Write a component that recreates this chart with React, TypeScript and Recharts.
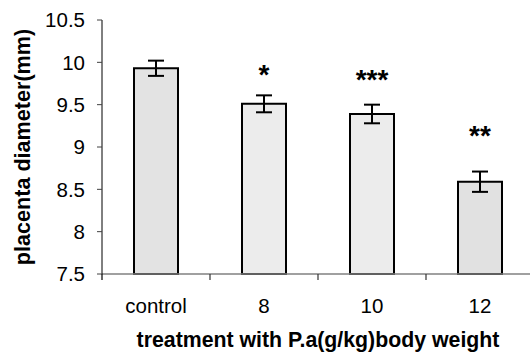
import { ComposedChart, Bar, Cell, XAxis, YAxis, ErrorBar, Scatter } from 'recharts';

const CATEGORIES = ['control', '8', '10', '12'];
const DIAMETER = [9.93, 9.51, 9.39, 8.59];
const SEM = [0.09, 0.1, 0.11, 0.12];
const STARS = ['', '*', '***', '**'];
const STAR_LEVEL = [null, 9.92, 9.86, 9.2];
const Y_TICKS = [7.5, 8, 8.5, 9, 9.5, 10, 10.5];
const FILLS = ['#e3e3e3', '#ececec', '#ececec', '#e1e1e1'];

const FONT = "'Liberation Sans', Arial, sans-serif";
const CHART_W = 534;
const CHART_H = 356;
const Y_AXIS_W = 102;
const BAND = (CHART_W - Y_AXIS_W) / CATEGORIES.length;
const TICK_GAP = 24;

const data = CATEGORIES.map((name, i) => ({
  name,
  value: DIAMETER[i],
  err: SEM[i],
  star: STAR_LEVEL[i],
  label: STARS[i],
}));

// category labels sit in the middle, tick marks go on the band edges
function CategoryTick(props: any) {
  const { x, y, payload, index } = props;
  const tx = Number(x);
  const axisY = Number(y) - TICK_GAP;
  return (
    <g>
      <path
        d={`M${tx - BAND / 2},${axisY}V${axisY + 6}`}
        stroke={index === 0 ? '#000' : '#333'}
        strokeWidth={1.2}
        fill="none"
      />
      <text x={tx} y={y} dy="0.71em" textAnchor="middle" fontSize={20.5} fontFamily={FONT} fill="#000">
        {payload.value}
      </text>
    </g>
  );
}

function StarShape(props: any) {
  const { cx, cy, payload } = props;
  if (!payload || !payload.label || cy == null || isNaN(cy)) return <g />;
  return (
    <text x={cx} y={cy + 15} textAnchor="middle" fontSize={28} fontWeight="bold" fontFamily={FONT} fill="#000">
      {payload.label}
    </text>
  );
}

export default function App() {
  return (
    <div style={{ position: 'absolute', left: 0, top: 0, width: 530, height: 356, overflow: 'hidden', background: '#fff' }}>
      <ComposedChart width={CHART_W} height={CHART_H} data={data} margin={{ top: 20, right: 0, bottom: 0, left: 0 }}>
        <XAxis
          dataKey="name"
          height={82}
          axisLine={{ stroke: '#808080', strokeWidth: 1.5 }}
          tickLine={false}
          tickSize={0}
          tickMargin={TICK_GAP}
          tick={<CategoryTick />}
          interval={0}
          label={{
            value: 'treatment with P.a(g/kg)body weight',
            position: 'insideBottom',
            offset: 9,
            style: { fontSize: 21.3, fontWeight: 'bold', fill: '#000', fontFamily: FONT },
          }}
        />
        <YAxis
          width={Y_AXIS_W}
          domain={[7.5, 10.5]}
          ticks={Y_TICKS}
          interval={0}
          axisLine={{ stroke: '#000', strokeWidth: 1 }}
          tickLine={{ stroke: '#404040' }}
          tickSize={5}
          tickMargin={12}
          tick={{ fontSize: 20.5, fill: '#000', fontFamily: FONT }}
          label={{
            value: 'placenta diameter(mm)',
            angle: -90,
            position: 'insideLeft',
            offset: 22,
            style: { textAnchor: 'middle', fontSize: 21.6, fontWeight: 'bold', fill: '#000', fontFamily: FONT },
          }}
        />
        <Bar dataKey="value" barSize={44} stroke="#000" strokeWidth={2} isAnimationActive={false}>
          {data.map((d, i) => (
            <Cell key={d.name} fill={FILLS[i]} />
          ))}
          <ErrorBar dataKey="err" width={8} strokeWidth={2} stroke="#000" direction="y" />
        </Bar>
        <Scatter dataKey="star" shape={<StarShape />} isAnimationActive={false} />
      </ComposedChart>
    </div>
  );
}
